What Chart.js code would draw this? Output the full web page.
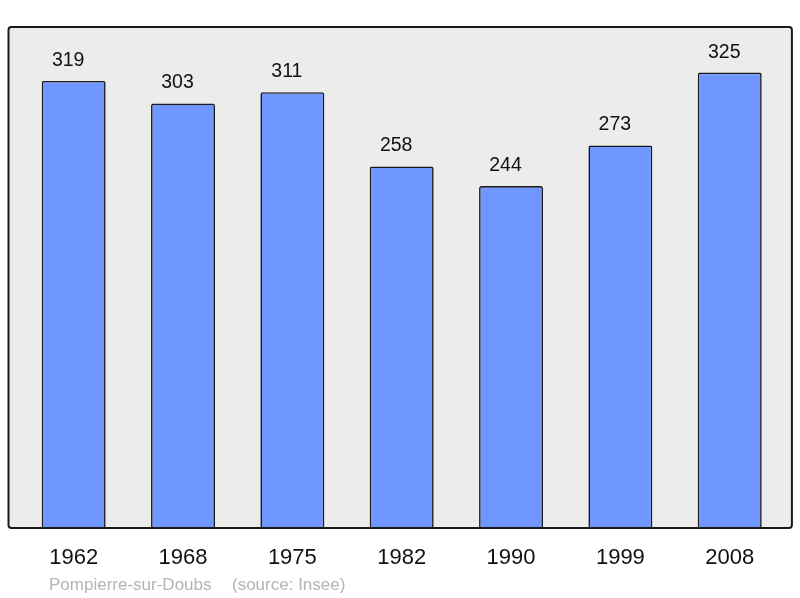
<!DOCTYPE html>
<html>
<head>
<meta charset="utf-8">
<style>
  html, body { margin: 0; padding: 0; background: #fff; }
  #wrap { position: relative; width: 800px; height: 598px; }
</style>
<script src="https://cdn.jsdelivr.net/npm/chart.js@4/dist/chart.umd.min.js"></script>
</head>
<body>
<div id="wrap"><canvas id="popChart" width="800" height="598"></canvas></div>
<script>
// data
const years = ["1962", "1968", "1975", "1982", "1990", "1999", "2008"];
const population = [319, 303, 311, 258, 244, 273, 325];
const commune = "Pompierre-sur-Doubs";
const source = "(source: Insee)";

const fontFamily = '"Liberation Sans", Arial, sans-serif';

// grey panel behind the bars, border drawn on top
const panelPlugin = {
    id: 'panel',
    beforeDatasetsDraw(chart) {
        const ca = chart.chartArea;
        const ctx = chart.ctx;
        ctx.save();
        ctx.beginPath();
        ctx.roundRect(ca.left - 10.5, ca.top, ca.width + 18, ca.height, 3);
        ctx.fillStyle = '#ececec';
        ctx.fill();
        ctx.restore();
    },
    afterDatasetsDraw(chart) {
        const ca = chart.chartArea;
        const ctx = chart.ctx;
        ctx.save();
        ctx.beginPath();
        ctx.roundRect(ca.left - 10.5, ca.top, ca.width + 18, ca.height, 3);
        ctx.lineWidth = 2;
        ctx.strokeStyle = '#1a1a1a';
        ctx.stroke();

        // values above the bars (sit a little left of centre in the original)
        ctx.font = '19.5px ' + fontFamily;
        ctx.fillStyle = '#111';
        ctx.textAlign = 'center';
        ctx.textBaseline = 'alphabetic';
        chart.getDatasetMeta(0).data.forEach((bar, i) => {
            ctx.fillText(String(population[i]), bar.x - 5.5, bar.y - 15);
        });

        // footer
        ctx.font = '17px ' + fontFamily;
        ctx.fillStyle = '#b4b4b4';
        ctx.textAlign = 'left';
        ctx.fillText(commune, 49, 590);
        ctx.fillText(source, 232, 590);
        ctx.restore();
    }
};

const ctx = document.getElementById('popChart').getContext('2d');
new Chart(ctx, {
    type: 'bar',
    data: {
        labels: years,
        datasets: [{
            data: population,
            backgroundColor: '#7097ff',
            borderColor: '#1a1a1a',
            borderWidth: 1.6,
            borderRadius: 2,
            barPercentage: 0.585,
            categoryPercentage: 1
        }]
    },
    options: {
        responsive: false,
        animation: false,
        layout: { padding: { left: 19, right: 15.6, top: 27, bottom: 0 } },
        plugins: {
            legend: { display: false },
            tooltip: { enabled: false }
        },
        scales: {
            x: {
                grid: { display: false, drawTicks: false },
                border: { display: false },
                ticks: {
                    color: '#111',
                    font: { family: fontFamily, size: 22 },
                    padding: 17
                },
                afterFit(scale) { scale.height = 70; }
            },
            y: {
                display: false,
                min: 0,
                max: 357.5
            }
        }
    },
    plugins: [panelPlugin]
});
</script>
</body>
</html>
